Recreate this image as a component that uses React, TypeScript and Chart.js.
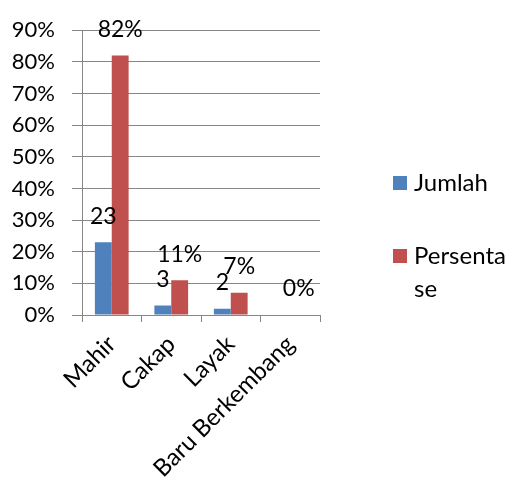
import React, { useEffect, useRef } from "react";
import { Chart, registerables } from "chart.js";

Chart.register(...registerables);

const categories = ["Mahir", "Cakap", "Layak", "Baru Berkembang"];
const jumlah: (number | null)[] = [23, 3, 2, null];
const persentase: number[] = [82, 11, 7, 0];
const seriesNames = ["Jumlah", "Persentase"];
const seriesColors = ["#4F81BD", "#C0504D"];
const yMin = 0;
const yMax = 90;
const yStep = 10;

const FONT = "Lato";
const Y_FONT = 22;
const X_FONT = 24;
const LABEL_FONT = 23;
const LEGEND_FONT = 24;
const GRID = "#868686";

const valueLabels = {
  id: "valueLabels",
  afterDatasetsDraw(chart: any) {
    const ctx = chart.ctx;
    ctx.save();
    ctx.font = `${LABEL_FONT}px ${FONT}`;
    ctx.fillStyle = "#000";
    ctx.textAlign = "center";
    ctx.textBaseline = "middle";
    chart.data.datasets.forEach((ds: any, di: number) => {
      const meta = chart.getDatasetMeta(di);
      meta.data.forEach((el: any, i: number) => {
        const v = ds.data[i];
        if (v === null || v === undefined) return;
        const txt = di === 1 ? `${v}%` : `${v}`;
        ctx.fillText(txt, el.x, el.y - 26);
      });
    });
    ctx.restore();
  },
};

function wrapText(ctx: CanvasRenderingContext2D, text: string, maxW: number) {
  const lines: string[] = [];
  let cur = "";
  for (const ch of text) {
    if (cur && ctx.measureText(cur + ch).width > maxW) {
      lines.push(cur);
      cur = ch;
    } else cur += ch;
  }
  if (cur) lines.push(cur);
  return lines;
}

const sideLegend = {
  id: "sideLegend",
  afterDraw(chart: any) {
    const ctx = chart.ctx;
    ctx.save();
    ctx.font = `${LEGEND_FONT}px ${FONT}`;
    ctx.textAlign = "left";
    ctx.textBaseline = "middle";
    const boxX = 393;
    const box = 14;
    const textX = 414;
    const maxW = 96;
    const centers = [183, 256];
    const lineH = 33;
    chart.data.datasets.forEach((ds: any, di: number) => {
      const cy = centers[di];
      ctx.fillStyle = ds.backgroundColor;
      ctx.fillRect(boxX, cy - box / 2, box, box);
      ctx.fillStyle = "#000";
      const lines = wrapText(ctx, ds.label, maxW);
      lines.forEach((ln, li) => ctx.fillText(ln, textX, cy + li * lineH));
    });
    ctx.restore();
  },
};

export default function App() {
  const ref = useRef<HTMLCanvasElement | null>(null);
  useEffect(() => {
    if (!ref.current) return;
    const chart = new Chart(ref.current, {
      type: "bar",
      data: {
        labels: categories,
        datasets: [
          {
            label: seriesNames[0],
            data: jumlah,
            backgroundColor: seriesColors[0],
            categoryPercentage: 0.567,
            barPercentage: 1,
          },
          {
            label: seriesNames[1],
            data: persentase,
            backgroundColor: seriesColors[1],
            categoryPercentage: 0.567,
            barPercentage: 1,
          },
        ],
      },
      options: {
        responsive: false,
        animation: false,
        layout: { padding: { left: 0, right: 191, top: 27, bottom: 0 } },
        plugins: {
          legend: { display: false },
          tooltip: { enabled: false },
        },
        scales: {
          x: {
            grid: {
              offset: true,
              drawOnChartArea: false,
              drawTicks: true,
              tickLength: 7,
              color: GRID,
            },
            border: { color: GRID },
            ticks: {
              autoSkip: false,
              minRotation: 45,
              maxRotation: 45,
              padding: 8,
              color: "#000",
              font: { family: FONT, size: X_FONT },
            },
            afterFit: (s: any) => {
              s.height = 167;
            },
          },
          y: {
            min: yMin,
            max: yMax,
            grid: { color: GRID, tickLength: 10 },
            border: { color: GRID },
            ticks: {
              stepSize: yStep,
              padding: 17,
              color: "#000",
              font: { family: FONT, size: Y_FONT },
              callback: (v: any) => `${v}%`,
            },
            afterFit: (s: any) => {
              s.width = 82;
            },
          },
        },
      },
      plugins: [valueLabels, sideLegend],
    });
    return () => chart.destroy();
  }, []);
  return (
    <div style={{ position: "absolute", left: 0, top: 0, width: 511, height: 482, background: "#fff" }}>
      <canvas ref={ref} width={511} height={482} style={{ display: "block" }} />
    </div>
  );
}
